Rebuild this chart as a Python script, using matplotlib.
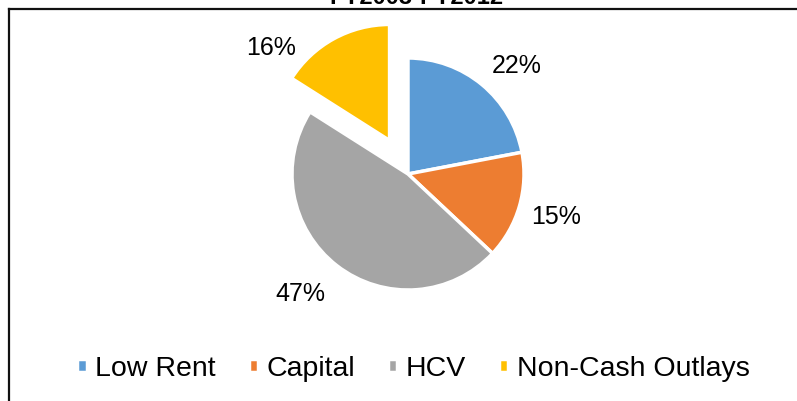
import matplotlib
matplotlib.use("Agg")
import numpy as np
import matplotlib.pyplot as plt
from matplotlib.lines import Line2D

plt.rcParams['font.family'] = ['Liberation Sans', 'DejaVu Sans']

title = "FY2003-FY2012"
categories = ["Low Rent", "Capital", "HCV", "Non-Cash Outlays"]
shares = [22, 15, 47, 16]
explode = [0.0, 0.0, 0.0, 0.33]
colors = ['#5B9BD5', '#ED7D31', '#A5A5A5', '#FFC000']

# Excel "best fit" label spots: (radius, angle shift in degrees from slice middle)
label_r = [1.32, 1.33, 1.39, 1.6]
label_shift = [-5.7, 0.0, -4.0, 18.6]

W, H = 797, 401
fig = plt.figure(figsize=(W / 100, H / 100), dpi=100)

# pie axes: centre ~ (408, 174) px from top-left, radius ~116 px
S = 464
cx, cy = 408, H - 174
ax = fig.add_axes([(cx - S / 2) / W, (cy - S / 2) / H, S / W, S / H])
wedges, texts, autotexts = ax.pie(
    shares, colors=colors, explode=explode, startangle=90, counterclock=False,
    autopct='%1.0f%%', pctdistance=1.33,
    wedgeprops=dict(edgecolor='white', linewidth=2.5),
    textprops=dict(fontsize=18, color='#000000'))

for w, t, r, d in zip(wedges, autotexts, label_r, label_shift):
    a = np.deg2rad((w.theta1 + w.theta2) / 2 + d)
    t.set_position((r * np.cos(a), r * np.sin(a)))

ax.set_xlim(-2, 2)
ax.set_ylim(-2, 2)
ax.set_aspect('equal', adjustable='box')
ax.axis('off')

# cropped title at top edge
fig.text(0.523, 1 - 3.5 / H, title, ha='center', va='baseline',
         fontsize=17, fontweight='bold')

# cropped border (top and left)
fig.add_artist(Line2D([9 / W, 1], [1 - 8.5 / H, 1 - 8.5 / H], color='#111111', lw=1.6,
                      transform=fig.transFigure))
fig.add_artist(Line2D([9 / W, 9 / W], [0, 1 - 8.5 / H], color='#111111', lw=1.6,
                      transform=fig.transFigure))

fig.legend(wedges, categories, loc='center', bbox_to_anchor=(0.519, 0.08), ncol=4,
           frameon=False, fontsize=20.5, handlelength=0.33, handleheight=0.33,
           handletextpad=0.3, columnspacing=1.15)

fig.savefig('out.png', dpi=100)
